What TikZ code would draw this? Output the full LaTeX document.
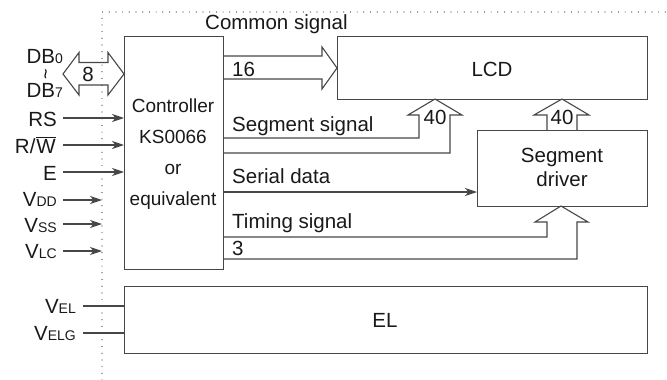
\documentclass[tikz,border=0pt]{standalone}
\usepackage{fontspec}
\setmainfont{Liberation Sans}
\usetikzlibrary{arrows.meta}
\newcommand\smt[1]{{\fontsize{14}{14}\selectfont #1}}
\begin{document}
\begin{tikzpicture}[x=1pt,y=-1pt,
  ln/.style={draw=black!72, line width=1.1pt},
  box/.style={ln, rectangle, inner sep=0pt, anchor=north west},
  lbl/.style={font=\fontsize{20.5}{22}\selectfont, inner sep=0pt, text=black!90},
  ctl/.style={font=\fontsize{19}{20}\selectfont, inner sep=0pt, text=black!90},
  arr/.style={ln, -{Stealth[length=12pt,width=8pt,inset=3.5pt]}},
  dotline/.style={draw=black!80, line width=1.2pt, line cap=round, dash pattern=on 0pt off 6.7pt},
]
\useasboundingbox (0,0) rectangle (667,380);
% dotted frame
\draw[dotline] (102,380) -- (102,12) -- (666,12);
% boxes
\node[box, minimum width=99pt, minimum height=233pt] (ctrl) at (124,36) {};
\node[box, minimum width=310pt, minimum height=63pt] (lcd) at (337,36) {};
\node[box, minimum width=170pt, minimum height=76pt] (drv) at (477,130) {};
\node[box, minimum width=523pt, minimum height=67pt] (el) at (124,286) {};
% box texts
\node[ctl, anchor=base] (t1) at (173,112) {Controller};
\node[ctl, anchor=base] (t2) at (173,143) {KS0066};
\node[ctl, anchor=base] (t3) at (173,174) {or};
\node[ctl, anchor=base] (t4) at (173,205) {equivalent};
\node[lbl, anchor=base] (tl) at (492,76) {LCD};
\node[lbl, anchor=base] (td1) at (562,162) {Segment};
\node[lbl, anchor=base] (td2) at (562,186) {driver};
\node[lbl, anchor=base] (te) at (385,327) {EL};
% signal labels
\node[lbl, anchor=base west] (lc) at (205,30) {Common signal};
\node[lbl, anchor=base west] (ls) at (232,131) {Segment signal};
\node[lbl, anchor=base west] (lsd) at (232,183) {Serial data};
\node[lbl, anchor=base west] (lt) at (232,228) {Timing signal};
\node[lbl, anchor=base west] (l3) at (232,255) {3};
\node[lbl, anchor=base west] (l16) at (232,76) {16};
\node[lbl, anchor=base] (l8) at (88,81) {8};
\node[lbl, anchor=base] (l40a) at (435,124) {40};
\node[lbl, anchor=base] (l40b) at (562,124) {40};
% wide arrows
\draw[ln] (79,62.5) -- (108,62.5) -- (108,52.5) -- (ctrl.west |- 0,74) -- (108,95) -- (108,85)
  -- (79,85) -- (79,95) -- (63,74) -- (79,52.5) -- cycle;
\draw[ln] (ctrl.east |- 0,56) -- (322,56) -- (322,47) -- (lcd.west |- 0,68) -- (322,89) -- (322,79) -- (ctrl.east |- 0,79);
\draw[ln] (ctrl.east |- 0,138) -- (419,138) -- (419,115) -- (408,115) -- (435,99) -- (462,115) -- (450,115) -- (450,153) -- (ctrl.east |- 0,153);
\draw[ln] (547,130) -- (547,115) -- (534,115) -- (562,99) -- (589,115) -- (577,115) -- (577,130);
\draw[ln] (ctrl.east |- 0,237) -- (547,237) -- (547,222) -- (535,222) -- (561,206) -- (588,222) -- (577,222) -- (577,259) -- (ctrl.east |- 0,259);
% serial data
\draw[arr] (ctrl.east |- 0,192) -- (drv.west |- 0,192);
% left labels
\node[lbl, anchor=base east] (db0) at (63,63) {DB\smt{0}};
\node[lbl, anchor=base east] (db7) at (63,97) {DB\smt{7}};
\node[font=\fontsize{18}{18}\selectfont, inner sep=0pt, rotate=90] (tld) at (48,74) {\textasciitilde};
\node[lbl, anchor=base east] (rs) at (57,126) {RS};
\node[lbl, anchor=base east] (rw) at (56,153) {R/\kern1pt$\overline{\hbox{W}}$};
\node[lbl, anchor=base east] (e) at (57,180) {E};
\node[lbl, anchor=base east] (vdd) at (57,206) {V\smt{DD}};
\node[lbl, anchor=base east] (vss) at (57,232) {V\smt{SS}};
\node[lbl, anchor=base east] (vlc) at (57,258) {V\smt{LC}};
\node[lbl, anchor=base east] (vel) at (76,313) {V\smt{EL}};
\node[lbl, anchor=base east] (velg) at (76,340) {V\smt{ELG}};
% input arrows
\draw[arr] (63,118) -- (ctrl.west |- 0,118);
\draw[arr] (63,145) -- (ctrl.west |- 0,145);
\draw[arr] (63,172) -- (ctrl.west |- 0,172);
\coordinate (dl1) at (102,200);
\coordinate (dl2) at (102,224);
\coordinate (dl3) at (102,251);
\draw[arr] (63,200) -- (dl1);
\draw[arr] (63,224) -- (dl2);
\draw[arr] (63,251) -- (dl3);
\draw[ln] (83,306) -- (el.west |- 0,306);
\draw[ln] (83,333) -- (el.west |- 0,333);
\end{tikzpicture}
\end{document}
